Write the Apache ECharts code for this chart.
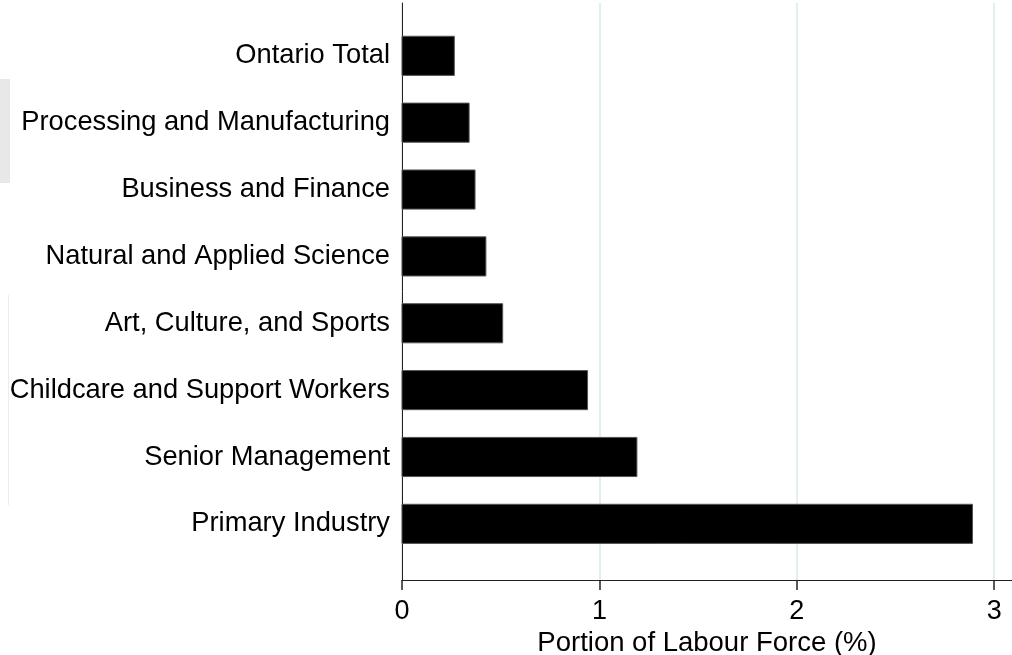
<!DOCTYPE html>
<html>
<head>
<meta charset="utf-8">
<script src="https://cdn.jsdelivr.net/npm/echarts@6/dist/echarts.min.js"></script>
<style>
html,body{margin:0;padding:0;background:#fff;}
#chart{width:1012px;height:655px;}
</style>
</head>
<body>
<div id="chart"></div>
<script>
const categories = [
  "Ontario Total",
  "Processing and Manufacturing",
  "Business and Finance",
  "Natural and Applied Science",
  "Art, Culture, and Sports",
  "Childcare and Support Workers",
  "Senior Management",
  "Primary Industry"
];
const values = [0.265, 0.34, 0.37, 0.425, 0.51, 0.94, 1.19, 2.89];
const xTicks = [0, 1, 2, 3];
const xTitle = "Portion of Labour Force (%)";

const FONT = "'Liberation Sans', Arial, sans-serif";
const chart = echarts.init(document.getElementById('chart'), null, {renderer: 'canvas'});

const seriesData = values.map((v, i) => [v, i]);

chart.setOption({
  animation: false,
  backgroundColor: '#fff',
  grid: {left: 402, right: 0, top: 3, height: 577, containLabel: false, outerBoundsMode: 'none'},
  xAxis: {
    type: 'value',
    min: 0, max: 3.09, interval: 1,
    name: xTitle,
    nameLocation: 'middle',
    nameGap: 45,
    nameTextStyle: {fontFamily: FONT, fontSize: 27.5, color: '#000'},
    axisLine: {show: true, onZero: false, lineStyle: {color: '#222', width: 1}},
    axisTick: {show: true, length: 10, lineStyle: {color: '#222', width: 1.5}, customValues: xTicks},
    axisLabel: {fontFamily: FONT, fontSize: 27, color: '#000', margin: 18, customValues: xTicks},
    splitLine: {show: true, lineStyle: {color: '#e3eef0', width: 2}}
  },
  yAxis: {
    type: 'value',
    inverse: true,
    min: -0.79, max: 7.84,
    axisLine: {show: true, onZero: false, lineStyle: {color: '#222', width: 1}},
    axisTick: {show: false},
    splitLine: {show: false},
    axisLabel: {
      fontFamily: FONT, fontSize: 27.3, color: '#000', margin: 12,
      customValues: categories.map((c, i) => i),
      formatter: (v) => categories[Math.round(v)] || ''
    }
  },
  series: [{
    type: 'custom',
    data: seriesData,
    encode: {x: 0, y: 1},
    renderItem: function (params, api) {
      const v = api.value(0), idx = api.value(1);
      const start = api.coord([0, idx]);
      const end = api.coord([v, idx]);
      const h = api.size([0, 1])[1] * 0.585;
      return {
        type: 'rect',
        shape: {x: start[0], y: start[1] - h / 2, width: end[0] - start[0], height: h},
        style: {fill: '#000', stroke: '#555', lineWidth: 1}
      };
    }
  }],
  graphic: [
    {type: 'rect', left: 0, top: 79, shape: {width: 10, height: 104}, style: {fill: '#e8e8e8'}, silent: true},
    {type: 'rect', left: 8, top: 295, shape: {width: 1, height: 210}, style: {fill: '#ececec'}, silent: true}
  ]
});
</script>
</body>
</html>
